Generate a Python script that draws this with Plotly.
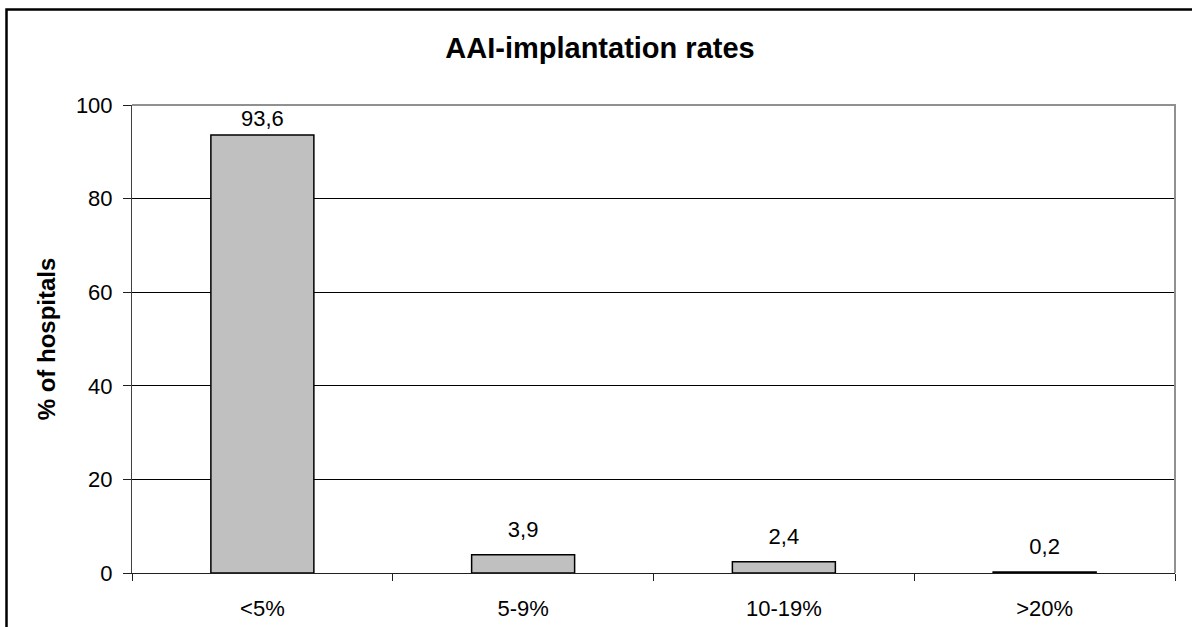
import plotly.graph_objects as go

categories = ["<5%", "5-9%", "10-19%", ">20%"]
values = [93.6, 3.9, 2.4, 0.2]
y_ticks = [0, 20, 40, 60, 80, 100]

# style: spacing of each value label above its bar (first one is held inside the plot area)
label_gap = [4, 18, 18, 18]

FONT = "Liberation Sans, Arial, sans-serif"

fig = go.Figure()
fig.add_trace(
    go.Bar(
        x=categories,
        y=values,
        width=0.395,
        marker=dict(color="#C0C0C0", line=dict(color="black", width=1.5)),
        hoverinfo="x+y",
    )
)
fig.add_trace(
    go.Scatter(
        x=categories,
        y=values,
        mode="markers+text",
        marker=dict(size=label_gap, opacity=0, color="white"),
        texttemplate="%{y:.1f}",
        textposition="top center",
        textfont=dict(family=FONT, size=22, color="black"),
        cliponaxis=False,
        hoverinfo="skip",
    )
)

fig.update_layout(
    width=1192,
    height=627,
    margin=dict(l=132, r=17, t=105, b=54),
    paper_bgcolor="white",
    plot_bgcolor="white",
    separators=", ",
    showlegend=False,
    title=dict(
        text="<b>AAI-implantation rates</b>",
        x=600 / 1192,
        xref="container",
        xanchor="center",
        y=1 - 48 / 627,
        yref="container",
        yanchor="middle",
        font=dict(family=FONT, size=29, color="black"),
    ),
    font=dict(family=FONT, size=22, color="black"),
    xaxis=dict(
        showline=True,
        linecolor="#202020",
        linewidth=1,
        ticks="outside",
        tickson="boundaries",
        ticklen=7,
        tickcolor="#202020",
        ticklabelstandoff=16,
        showgrid=False,
        automargin=False,
        tickfont=dict(family=FONT, size=22, color="black"),
        fixedrange=True,
    ),
    yaxis=dict(
        range=[0, 100],
        tickvals=y_ticks,
        showline=True,
        linecolor="#404040",
        linewidth=1,
        ticks="outside",
        ticklen=8,
        tickcolor="#202020",
        ticklabelstandoff=6,
        showgrid=True,
        gridcolor="black",
        gridwidth=1,
        zeroline=False,
        automargin=False,
        tickfont=dict(family=FONT, size=22, color="black"),
        title=dict(
            text="<b>% of hospitals</b>",
            font=dict(family=FONT, size=24, color="black"),
            standoff=13,
        ),
        fixedrange=True,
    ),
    shapes=[
        dict(
            type="path",
            xref="paper",
            yref="paper",
            path="M 0,1 L 1,1 L 1,0",
            line=dict(color="#909090", width=2),
            layer="above",
        ),
        dict(
            type="rect",
            xref="paper",
            yref="paper",
            x0=(6.5 - 132) / 1043,
            x1=1.2,
            y0=-0.5,
            y1=(573 - 9.5) / 468,
            line=dict(color="black", width=2.5),
            layer="above",
        ),
    ],
)

fig.write_html("out.html")
